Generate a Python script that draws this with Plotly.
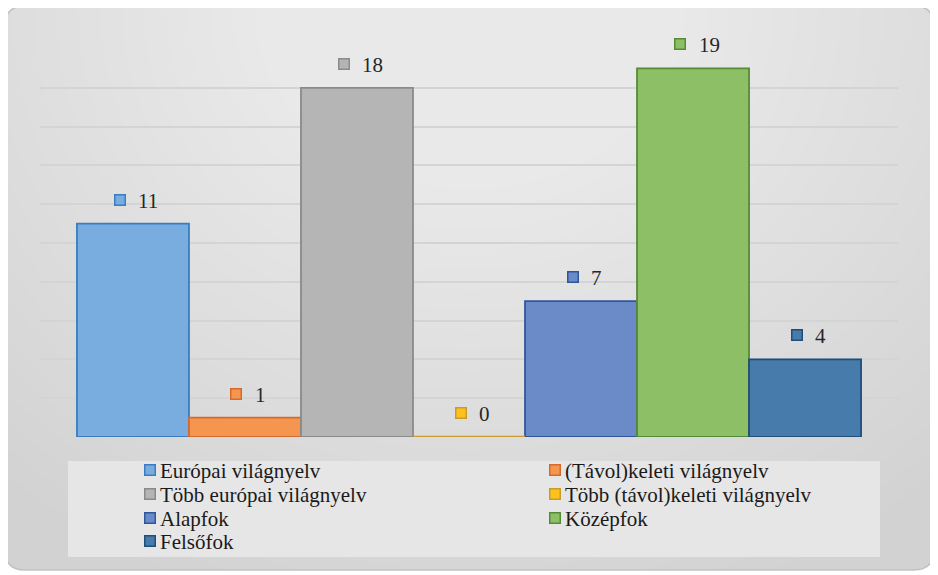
import plotly.graph_objects as go

# ---- data ----
series_names = ["Európai világnyelv", "(Távol)keleti világnyelv", "Több európai világnyelv",
                "Több (távol)keleti világnyelv", "Alapfok", "Középfok", "Felsőfok"]
values = [11, 1, 18, 0, 7, 19, 4]
fill_colors = ["#79addf", "#f4964f", "#b5b5b5", "#ffc21a", "#6a8bc8", "#8dbf66", "#467bab"]
line_colors = ["#3a7cc0", "#d66a2c", "#8a8a8a", "#c99b2e", "#2f559b", "#568b36", "#1f4e79"]

FONT = "Liberation Serif, Times New Roman, serif"

OFF = 8                     # page body margin
W, H = 930, 567             # figure size (page is 938x575)
ML, MT = 40 - OFF, 49 - OFF
MR = W - (898 - OFF)
MB = H - (437 - OFF)
PW = W - ML - MR
PH = H - MT - MB

def px_x(px):               # reference page pixel -> paper fraction
    return (px - OFF - ML) / PW

def px_y(py):
    return (H - MB - (py - OFF)) / PH

fig = go.Figure()

def P(x, y):
    return f"{px_x(x):.5f},{px_y(y):.5f}"

x0, x1, y0, y1, r = 5, 934, 6, 570, 20
rounded = (f"M{P(x0 + r, y0)} L{P(x1 - r, y0)} Q{P(x1, y0)} {P(x1, y0 + r)} "
           f"L{P(x1, y1 - r)} Q{P(x1, y1)} {P(x1 - r, y1)} L{P(x0 + r, y1)} "
           f"Q{P(x0, y1)} {P(x0, y1 - r)} L{P(x0, y0 + r)} Q{P(x0, y0)} {P(x0 + r, y0)} Z")

shapes = []
shapes.append(dict(type="path", path=rounded, xref="paper", yref="paper",
                   fillcolor="#d2d2d2", line=dict(width=0), layer="below"))
# soft radial highlight (many faint concentric ellipses)
cx, cy = 470, 10
N = 30
for k in range(N):
    rx = 700 - k * 22
    ry = 620 - k * 20
    shapes.append(dict(type="circle", xref="paper", yref="paper",
                       x0=px_x(cx - rx), x1=px_x(cx + rx),
                       y0=px_y(cy + ry), y1=px_y(cy - ry),
                       fillcolor="rgba(255,255,255,0.045)", line=dict(width=0), layer="below"))
# white mask outside the rounded box
outer = f"M{P(-20,-20)} L{P(960,-20)} L{P(960,600)} L{P(-20,600)} Z " + rounded
shapes.append(dict(type="path", path=outer, xref="paper", yref="paper",
                   fillcolor="white", fillrule="evenodd", line=dict(width=0), layer="below"))
shapes.append(dict(type="path", path=rounded, xref="paper", yref="paper",
                   fillcolor="rgba(0,0,0,0)", line=dict(color="#c2c2c2", width=1.5), layer="below"))
# legend box
shapes.append(dict(type="rect", xref="paper", yref="paper",
                   x0=px_x(68), x1=px_x(880), y0=px_y(557), y1=px_y(461),
                   fillcolor="#e6e6e6", line=dict(width=0), layer="below"))

for i, (nm, v, fc, lc) in enumerate(zip(series_names, values, fill_colors, line_colors)):
    fig.add_trace(go.Bar(x=[i], y=[v], width=1, name=nm,
                         marker=dict(color=fc, line=dict(color=lc, width=1.8)),
                         hoverinfo="name+y", showlegend=False))
    if v == 0:
        fig.add_trace(go.Scatter(x=[i - 0.5, i + 0.5], y=[v, v], mode="lines",
                                 line=dict(color=lc, width=2.5), showlegend=False,
                                 hoverinfo="skip"))

annotations = []
# data labels: small series-coloured square + value
for i, (v, fc, lc) in enumerate(zip(values, fill_colors, line_colors)):
    txt = str(v)
    n = len(txt)
    sq = -4 - 4.5 * n
    annotations.append(dict(x=i, y=v, xref="x", yref="y", text=" ", showarrow=False,
                            width=9, height=9, bgcolor=fc, bordercolor=lc, borderwidth=1.5,
                            borderpad=0, font=dict(size=2),
                            xshift=sq, yshift=24))
    annotations.append(dict(x=i, y=v, xref="x", yref="y", text=txt, showarrow=False,
                            xanchor="left", yanchor="middle",
                            font=dict(family=FONT, size=21, color="#262626"),
                            xshift=sq + 16.5, yshift=23))

# legend (two columns, Excel style)
col_x = [150, 555]
row_y0, row_dy = 470, 23.8
for k, (nm, fc, lc) in enumerate(zip(series_names, fill_colors, line_colors)):
    row, col = divmod(k, 2)
    yy = row_y0 + row * row_dy
    annotations.append(dict(x=px_x(col_x[col]), y=px_y(yy), xref="paper", yref="paper",
                            text=" ", showarrow=False, width=9, height=9,
                            bgcolor=fc, bordercolor=lc, borderwidth=1.5, borderpad=0,
                            font=dict(size=2), xanchor="center", yanchor="middle"))
    annotations.append(dict(x=px_x(col_x[col] + 8), y=px_y(yy + 1), xref="paper", yref="paper",
                            text=nm, showarrow=False, xanchor="left", yanchor="middle",
                            font=dict(family=FONT, size=21, color="#1a1a1a")))

fig.update_layout(
    width=W, height=H,
    margin=dict(l=ML, r=MR, t=MT, b=MB, autoexpand=False),
    paper_bgcolor="white", plot_bgcolor="rgba(0,0,0,0)",
    barmode="overlay",
    xaxis=dict(range=[-0.83, 6.83], showticklabels=False, showgrid=False,
               zeroline=False, showline=False, fixedrange=True),
    yaxis=dict(range=[0, 20], dtick=2, showticklabels=False, showgrid=True,
               gridcolor="#d4d4d4", gridwidth=2, zeroline=False, showline=False),
    shapes=shapes,
    annotations=annotations,
    showlegend=False,
    font=dict(family=FONT),
)

fig.write_html("out.html")
